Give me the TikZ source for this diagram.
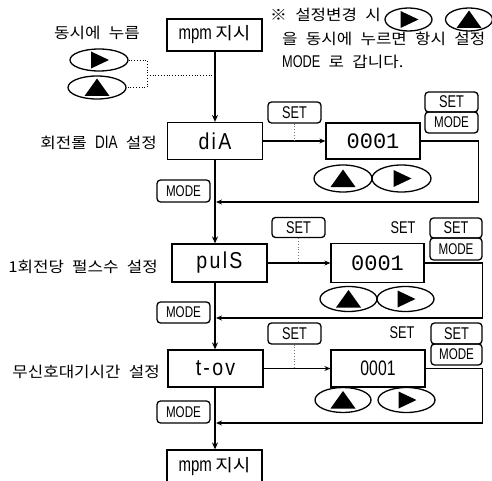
\documentclass[tikz,border=0pt]{standalone}
\usepackage{fontspec}
\usetikzlibrary{shapes.geometric,arrows.meta}
\newfontfamily\kr[WordSpace=2.2,FakeStretch=1.12]{Noto Sans CJK KR}
\newfontfamily\cond[FakeStretch=0.75]{Liberation Sans}
\newfontfamily\bigf[FakeStretch=0.85,LetterSpace=10]{Liberation Sans}
\newfontfamily\mono{Liberation Mono}
\newcommand\fs[1]{\fontsize{#1}{#1}\selectfont}
\begin{document}
\begin{tikzpicture}[x=1pt,y=-1pt,
  box/.style={draw, line width=1.2pt, inner sep=0pt, minimum width=95pt, minimum height=37pt},
  btn/.style={draw, line width=1.3pt, rounded corners=3.5pt, inner sep=0pt, minimum width=53pt, minimum height=21pt, font=\cond\fs{17}},
  modebtn/.style={btn, font=\cond\fs{15.5}},
  keyshape/.style={draw, ellipse, line width=1.3pt, inner sep=0pt},
  upkey/.style={keyshape, path picture={\fill[shift={(path picture bounding box.center)}, scale=#1] (-12.5,8.5) -- (12.5,8.5) -- (0,-9) -- cycle;}},
  upkey/.default=1,
  rightkey/.style={keyshape, path picture={\fill[shift={(path picture bounding box.center)}, scale=#1] (-8,-8.5) -- (-8,8.5) -- (10,0) -- cycle;}},
  rightkey/.default=1,
  lbl/.style={inner sep=0pt, font=\kr\fs{15}},
  mainline/.style={line width=1.8pt, -{Stealth[length=7pt,width=6pt]}},
  ret/.style={line width=1.2pt, -{Stealth[length=6pt,width=5pt]}},
  dot/.style={dotted, line width=0.8pt},
  gdot/.style={dotted, line width=0.8pt, black!55}
]
\useasboundingbox (0,0) rectangle (492,481);
\coordinate (axis) at (215,0);

% top
\node[box, minimum height=32pt] (mpm1) at (214.5,35) {{\cond\fs{20}mpm} {\kr\fs{17}지시}};
\node[lbl] (press) at (97,33) {동시에 누름};
\node[rightkey, minimum width=58pt, minimum height=22pt] (kr0) at (99,60) {};
\node[upkey, minimum width=58pt, minimum height=23pt] (ku0) at (97,87.5) {};
\coordinate (j) at (147,75);
\draw[dot] (kr0.east) -| (j) |- (ku0.east);
\draw[dot] (j) -- (axis |- j);

% note
\node[lbl, anchor=west] (n1) at (270,15) {※ 설정변경 시};
\node[rightkey=0.75, minimum width=47pt, minimum height=23pt] (nk1) at (408.5,19.5) {};
\node[upkey=0.75, minimum width=47pt, minimum height=23pt] (nk2) at (469,19.5) {};
\node[lbl, anchor=west] (n2) at (282,39) {을 동시에 누르면 항시 설정};
\node[lbl, anchor=west] (n3) at (282,62) {{\cond\fs{17}MODE} 로 갑니다.};

% row 1
\node[box] (dia) at (215,141) {\bigf\fs{23}diA};
\node[lbl, anchor=east] (l1) at (157,143) {회전롤 {\cond\fs{18}DIA} 설정};
\node[box, minimum width=94pt, minimum height=36pt] (val1) at (373,141) {\mono\fs{22}0001};
\node[btn] (set1) at (294.5,112.5) {SET};
\node[btn, minimum height=20pt] (ss1) at (451.5,102) {SET};
\node[modebtn] (sm1) at (451.5,122.5) {MODE};
\node[upkey, minimum width=58pt, minimum height=27pt] (u1) at (343,178.5) {};
\node[rightkey, minimum width=59pt, minimum height=27pt] (r1k) at (401.5,178.5) {};
\node[modebtn, minimum height=22pt] (m1) at (183.5,191) {MODE};
\coordinate (r1) at (216,202);

% row 2
\node[box, minimum height=38pt] (puls) at (219.5,263) {\bigf\fs{23}pulS};
\node[lbl, anchor=east] (l2) at (158,267) {1회전당 펄스수 설정};
\node[box, minimum width=93pt, minimum height=39pt] (val2) at (377.5,263) {\mono\fs{22}0001};
\node[btn, minimum height=20pt] (set2) at (298.5,227.5) {SET};
\node[inner sep=0pt, font=\cond\fs{17}] (t2) at (403,228) {SET};
\node[btn, minimum width=52pt, minimum height=20pt] (ss2) at (456,228) {SET};
\node[modebtn, minimum width=52pt, minimum height=22pt] (sm2) at (456,249) {MODE};
\node[upkey, minimum width=57pt, minimum height=25pt] (u2) at (348.5,299) {};
\node[rightkey, minimum width=57pt, minimum height=25pt] (r2k) at (405.5,299) {};
\node[modebtn] (m2) at (183.5,312.5) {MODE};
\coordinate (r2) at (216,318);

% row 3
\node[box] (tov) at (215.5,368.5) {\bigf\fs{23}t-ov};
\node[lbl, anchor=east] (l3) at (160,372) {무신호대기시간 설정};
\node[box, minimum width=94pt] (val3) at (378,368.5) {\cond\fs{21}0001};
\node[btn] (set3) at (294.5,333.5) {SET};
\node[inner sep=0pt, font=\cond\fs{17}] (t3) at (402,333) {SET};
\node[btn, minimum width=51pt] (ss3) at (456.5,333.5) {SET};
\node[modebtn, minimum width=51pt] (sm3) at (456.5,354.5) {MODE};
\node[upkey, minimum width=56pt, minimum height=25pt] (u3) at (343,400) {};
\node[rightkey, minimum width=57pt, minimum height=25pt] (r3k) at (406.5,400) {};
\node[modebtn, minimum height=22pt] (m3) at (183.5,412) {MODE};
\coordinate (r3) at (216,423);

% bottom
\node[box, minimum height=33pt] (mpm2) at (214.5,466.5) {{\cond\fs{20}mpm} {\kr\fs{17}지시}};

% main flow
\draw[mainline] (axis |- mpm1.south) -- (axis |- dia.north);
\draw[mainline] (axis |- dia.south) -- (axis |- puls.north);
\draw[mainline] (axis |- puls.south) -- (axis |- tov.north);
\draw[mainline] (axis |- tov.south) -- (axis |- mpm2.north);

% side flows
\draw[ret] (dia.east) -- (val1.west);
\draw[ret] (puls.east) -- (val2.west);
\draw[ret] (tov.east) -- (val3.west);
\draw[gdot] (set1.south) -- (set1.south |- dia.east);
\draw[gdot] (set2.south) -- (set2.south |- puls.east);
\draw[gdot] (set3.south) -- (set3.south |- tov.east);

% returns
\draw[ret] (val1.east) -| (sm1.east |- r1) -- (r1);
\draw[ret] (val2.east) -| (sm2.east |- r2) -- (r2);
\draw[ret] (val3.east) -| (sm3.east |- r3) -- (r3);
\end{tikzpicture}
\end{document}
